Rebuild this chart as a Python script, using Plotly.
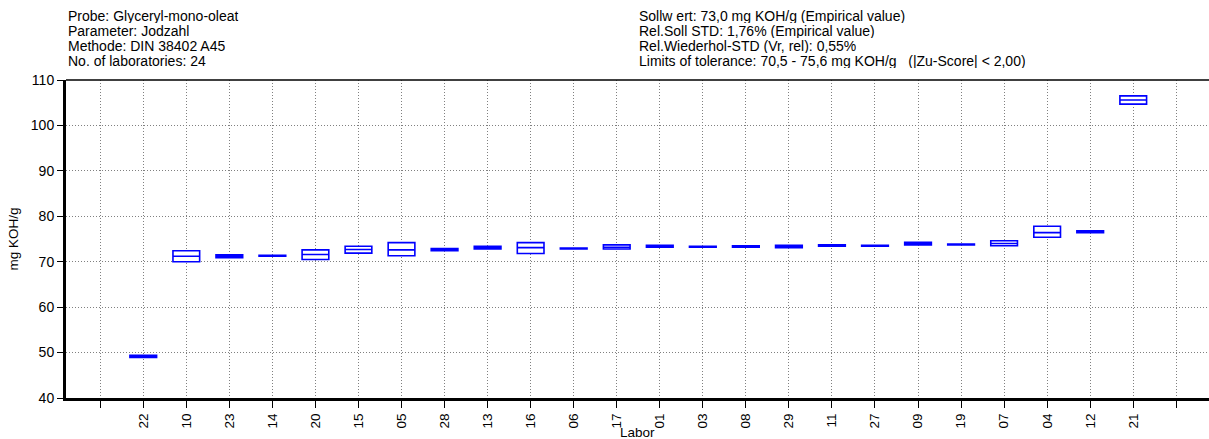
import plotly.graph_objects as go

labs = ["22", "10", "23", "14", "20", "15", "05", "28", "13", "16", "06", "17",
        "01", "03", "08", "29", "11", "27", "09", "19", "07", "04", "12", "21"]
mins = [48.9, 70.0, 70.9, 71.2, 70.5, 71.9, 71.3, 72.4, 72.8, 71.8, 72.8, 72.8,
        73.2, 73.2, 73.2, 73.1, 73.4, 73.4, 73.7, 73.7, 73.5, 75.4, 76.4, 104.7]
means = [49.1, 71.2, 71.2, 71.3, 71.6, 72.7, 72.6, 72.7, 73.1, 73.1, 72.9, 73.2,
         73.4, 73.3, 73.35, 73.35, 73.5, 73.5, 74.0, 73.8, 74.0, 76.4, 76.6, 105.6]
maxs = [49.4, 72.4, 71.5, 71.4, 72.6, 73.4, 74.2, 72.9, 73.4, 74.2, 73.0, 73.7,
        73.6, 73.4, 73.5, 73.6, 73.7, 73.6, 74.3, 73.9, 74.6, 77.8, 76.8, 106.5]

tick_labels = [""] + labs + [""]
positions = list(range(1, len(labs) + 1))

left_text = ["Probe: Glyceryl-mono-oleat", "Parameter: Jodzahl",
             "Methode: DIN 38402 A45", "No. of laboratories: 24"]
right_text = ["Sollw ert: 73,0 mg KOH/g (Empirical value)",
              "Rel.Soll STD: 1,76% (Empirical value)",
              "Rel.Wiederhol-STD (Vr, rel): 0,55%",
              "Limits of tolerance: 70,5 - 75,6 mg KOH/g   (|Zu-Score| < 2,00)"]

FONT = "Arial, Liberation Sans, sans-serif"
BLUE = "#0000FF"
GRID_DASH = "1px,2px"
HEAD_SIZE = 14

fig = go.Figure()
fig.add_trace(go.Box(
    x=positions, q1=mins, median=means, q3=maxs,
    lowerfence=mins, upperfence=maxs,
    width=0.62, whiskerwidth=0, boxpoints=False,
    fillcolor="white", line=dict(color=BLUE, width=1.6),
    showlegend=False, hoverinfo="skip",
))

fig.update_layout(
    width=1209, height=439,
    margin=dict(l=66, r=0, t=80, b=41),
    paper_bgcolor="white", plot_bgcolor="white",
    font=dict(family=FONT, size=13, color="black"),
    showlegend=False,
    xaxis=dict(
        range=[-0.795, 25.76], automargin=False,
        tickmode="array", tickvals=list(range(0, len(labs) + 2)), ticktext=tick_labels,
        tickangle=-90, ticks="outside", ticklen=7, tickwidth=1, tickcolor="black",
        tickfont=dict(size=13.5, family=FONT),
        showgrid=True, gridcolor="#808080", griddash=GRID_DASH, gridwidth=1,
        showline=True, linecolor="black", linewidth=3,
        zeroline=False,
    ),
    yaxis=dict(
        range=[40, 110], tickmode="linear", tick0=40, dtick=10, automargin=False,
        ticks="outside", ticklen=6, tickwidth=1, tickcolor="black",
        tickfont=dict(size=14, family=FONT),
        showgrid=True, gridcolor="#808080", griddash=GRID_DASH, gridwidth=1,
        showline=True, linecolor="black", linewidth=3,
        zeroline=False,
        title=dict(text="mg KOH/g", font=dict(size=13.5, family=FONT), standoff=10),
    ),
)

# x axis title placed precisely under the rotated tick labels
fig.add_annotation(text="Labor", xref="paper", yref="paper", x=0.5, y=0,
                   xanchor="center", yanchor="middle", yshift=-34,
                   showarrow=False, font=dict(size=13.5, family=FONT))

# thin top border of plot frame
fig.add_shape(type="line", xref="paper", yref="paper", x0=0, x1=1, y0=1, y1=1,
              line=dict(color="black", width=1.5))

for i, t in enumerate(left_text):
    fig.add_annotation(text=t, xref="paper", yref="paper", x=0, y=1,
                       xanchor="left", yanchor="middle", yshift=64 - 15 * i,
                       height=14, valign="middle",
                       showarrow=False, font=dict(size=HEAD_SIZE, family=FONT))
for i, t in enumerate(right_text):
    fig.add_annotation(text=t, xref="paper", yref="paper", x=(637 - 66) / (1209 - 66), y=1,
                       xanchor="left", yanchor="middle", yshift=64 - 15 * i,
                       height=14, valign="middle",
                       showarrow=False, font=dict(size=HEAD_SIZE, family=FONT))

fig.write_html("out.html", config={"displayModeBar": False},
               post_script="document.body.style.margin='0px';")
